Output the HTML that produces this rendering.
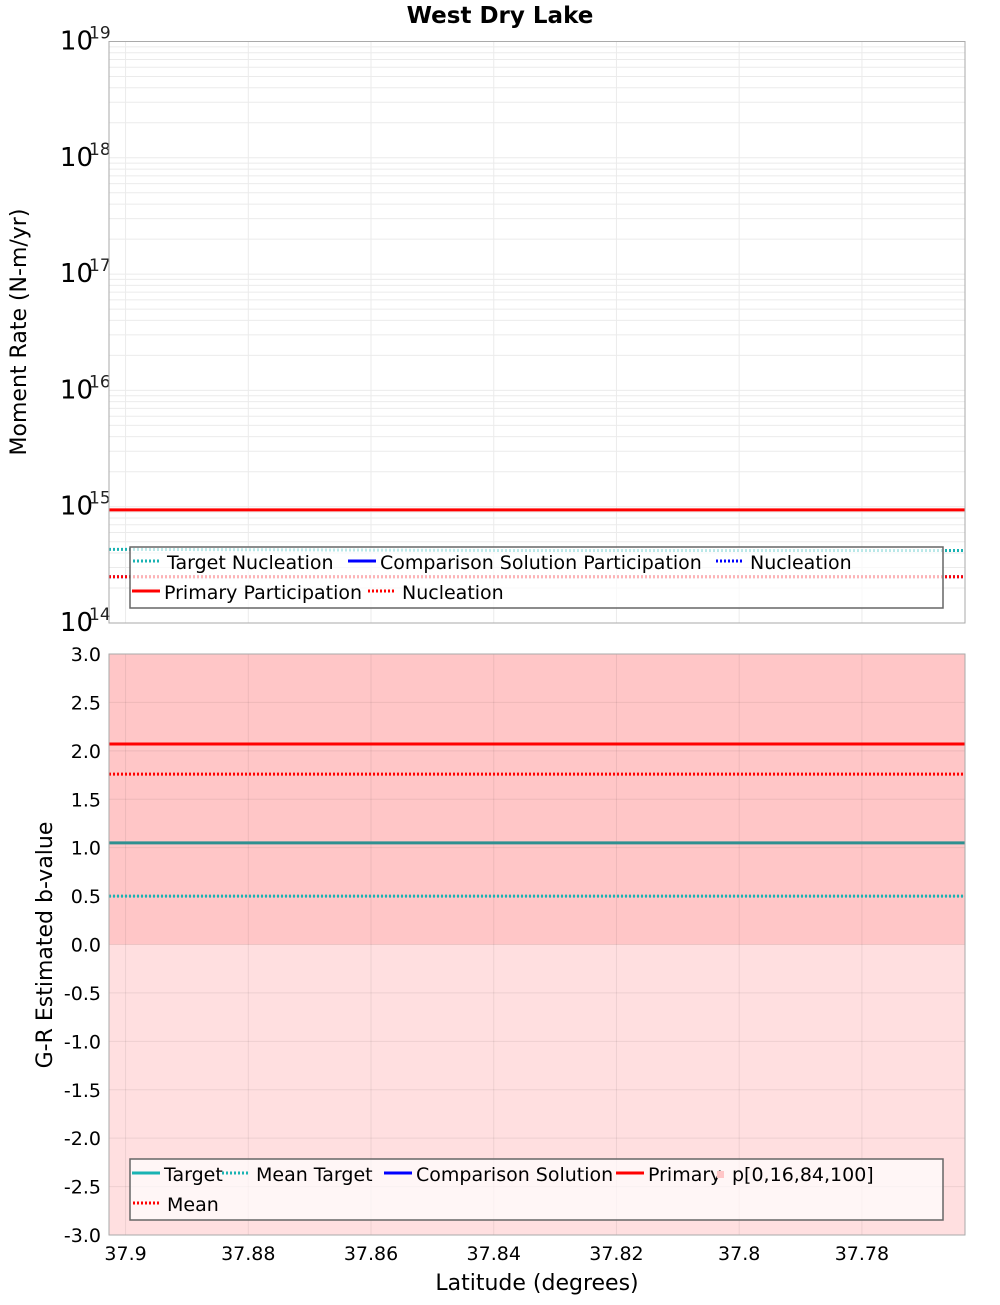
<!DOCTYPE html>
<html><head><meta charset="utf-8">
<style>
body{margin:0;background:#fff;}
svg text{font-family:"DejaVu Sans","Liberation Sans",sans-serif;}
</style></head>
<body>
<svg id="chart" width="1000" height="1300" xmlns="http://www.w3.org/2000/svg">
<text x="500" y="23" text-anchor="middle" font-size="23" font-weight="bold">West Dry Lake</text>
<g id="topPanel"></g>
<g id="botPanel"></g>
<text transform="translate(26,332) rotate(-90)" text-anchor="middle" font-size="22">Moment Rate (N-m/yr)</text>
<text transform="translate(52,945) rotate(-90)" text-anchor="middle" font-size="22">G-R Estimated b-value</text>
<text x="537" y="1290" text-anchor="middle" font-size="22">Latitude (degrees)</text>
</svg>
<script>
// ---- data ----
const xDomain = [37.9027, 37.7632];
const xTicks = [37.9, 37.88, 37.86, 37.84, 37.82, 37.8, 37.78];
const xTickLabels = ["37.9","37.88","37.86","37.84","37.82","37.8","37.78"];
const segX = [37.9027, 37.835, 37.7632];
// top panel (log moment rate)
const topDecades = [14, 15, 16, 17, 18, 19];
const primaryParticipation = [9.4e14, 9.4e14, 9.4e14];
const targetNucleation = [4.3e14, 4.2e14, 4.2e14];
const comparisonNucleation = [2.5e14, 2.5e14, 2.5e14];
const primaryNucleation = [2.5e14, 2.5e14, 2.5e14];
// bottom panel (b-value)
const bTicks = [3.0,2.5,2.0,1.5,1.0,0.5,0.0,-0.5,-1.0,-1.5,-2.0,-2.5,-3.0];
const bPrimary = [2.07, 2.07, 2.07];
const bMean = [1.76, 1.76, 1.76];
const bTarget = [1.05, 1.05, 1.05];
const bMeanTarget = [0.50, 0.50, 0.50];
const bandOuter = [-3.0, 3.0];
const bandInner = [0.0, 3.0];

const NS="http://www.w3.org/2000/svg";
const L=109,R=965;
const T1=41.5,B1=623, T2=654,B2=1235;
function xs(v){return L+(v-xDomain[0])/(xDomain[1]-xDomain[0])*(R-L);}
function ysTop(v){return B1-(Math.log10(v)-14)/5*(B1-T1);}
function ysBot(v){return B2-(v+3)/6*(B2-T2);}
function mk(parent,tag,attrs){const e=document.createElementNS(NS,tag);for(const k in attrs)e.setAttribute(k,attrs[k]);parent.appendChild(e);return e;}
const topG=document.getElementById('topPanel'), botG=document.getElementById('botPanel');

// ---- top panel ----
let bg=mk(topG,'rect',{x:L,y:T1,width:R-L,height:B1-T1,fill:'#fff'});


for(let d=14;d<19;d++){for(let m=1;m<10;m++){const y=ysTop(m*Math.pow(10,d));
 const g=mk(topG,'line',{x1:L,x2:R,y1:y,y2:y,stroke:'#ebebeb','stroke-width':1});
 
 }}
xTicks.forEach(t=>{const x=xs(t);
 const g=mk(topG,'line',{x1:x,x2:x,y1:T1,y2:B1,stroke:'#ebebeb','stroke-width':1});
 
 });
topDecades.forEach(d=>{const y=ysTop(Math.pow(10,d));
 const t=mk(topG,'text',{x:93,y:y+8,'text-anchor':'end','font-size':26});t.textContent='10';
 
 
 const s=mk(topG,'text',{x:89,y:y-3,'font-size':17,fill:'#222'});s.textContent=String(d);
 
 });
function series(parent,vals,ys,color,w,dash,name){
 const pts=segX.map((x,i)=>xs(x)+','+ys(vals[i])).join(' ');
 const p=mk(parent,'polyline',{points:pts,fill:'none',stroke:color,'stroke-width':w});
 if(dash)p.setAttribute('stroke-dasharray',dash);
 
 }
series(topG,targetNucleation,ysTop,'#1ab3b3',3,'2,2','target-nucleation-line');
series(topG,comparisonNucleation,ysTop,'#0000ff',3,'2,2','comparison-nucleation-line');
series(topG,primaryNucleation,ysTop,'#ff0000',3,'2,2','primary-nucleation-line');
series(topG,primaryParticipation,ysTop,'#ff0000',3,null,'primary-participation-line');
let fr=mk(topG,'rect',{x:L,y:T1,width:R-L,height:B1-T1,fill:'none',stroke:'#aaa'});



function legend(parent,x,y,w,h,rows,name){
 const g=mk(parent,'g',{});
 
 
 mk(g,'rect',{x:x,y:y,width:w,height:h,fill:'rgba(255,255,255,0.7)',stroke:'#666','stroke-width':1.5});
 rows.forEach(r=>{
  const e=mk(g,'g',{});
  
  
  if(r.sq){mk(e,'rect',{x:r.x+5,y:r.y-6,width:7,height:7,fill:r.c});}
  else{const l=mk(e,'line',{x1:r.x,x2:r.x+28,y1:r.y-4,y2:r.y-4,stroke:r.c,'stroke-width':3});if(r.d)l.setAttribute('stroke-dasharray','2,2');}
  const t=mk(e,'text',{x:r.x+(r.sq?20:32)+(r.d?2:0),y:r.y+4,'font-size':19});t.textContent=r.t;});
}
legend(topG,130,547,813,61,[
 {x:133,y:565,c:'#1ab3b3',d:1,t:'Target Nucleation'},
 {x:348,y:565,c:'#0000ff',t:'Comparison Solution Participation'},
 {x:716,y:565,c:'#0000ff',d:1,t:'Nucleation'},
 {x:132,y:595,c:'#ff0000',t:'Primary Participation'},
 {x:368,y:595,c:'#ff0000',d:1,t:'Nucleation'}],'top-legend');

// ---- bottom panel ----
let o=mk(botG,'rect',{x:L,y:ysBot(bandOuter[1]),width:R-L,height:ysBot(bandOuter[0])-ysBot(bandOuter[1]),fill:'#ffdfe0'});


let i2=mk(botG,'rect',{x:L,y:ysBot(bandInner[1]),width:R-L,height:ysBot(bandInner[0])-ysBot(bandInner[1]),fill:'#ffc6c7'});


bTicks.forEach(v=>{const y=ysBot(v);
 const g=mk(botG,'line',{x1:L,x2:R,y1:y,y2:y,stroke:'rgba(0,0,0,0.07)','stroke-width':1});
 
 
 const t=mk(botG,'text',{x:101,y:y+7,'text-anchor':'end','font-size':19});t.textContent=v.toFixed(1);
 
 });
xTicks.forEach((v,k)=>{const x=xs(v);
 const g=mk(botG,'line',{x1:x,x2:x,y1:T2,y2:B2,stroke:'rgba(0,0,0,0.07)','stroke-width':1});
 
 
 const t=mk(botG,'text',{x:x,y:1260,'text-anchor':'middle','font-size':19});t.textContent=xTickLabels[k];
 
 });
series(botG,bMeanTarget,ysBot,'#1ab3b3',3,'2,2','mean-target-line');
series(botG,bTarget,ysBot,'#2e9090',3,null,'target-line');
series(botG,bMean,ysBot,'#ff0000',3,'2,2','mean-line');
series(botG,bPrimary,ysBot,'#ff0000',3,null,'primary-line');
let fr2=mk(botG,'rect',{x:L,y:T2,width:R-L,height:B2-T2,fill:'none',stroke:'#aaa'});


legend(botG,130,1159,813,61,[
 {x:132,y:1177,c:'#1ab3b3',t:'Target'},
 {x:222,y:1177,c:'#1ab3b3',d:1,t:'Mean Target'},
 {x:384,y:1177,c:'#0000ff',t:'Comparison Solution'},
 {x:616,y:1177,c:'#ff0000',t:'Primary'},
 {x:712,y:1177,c:'#ffc6c7',sq:1,t:'p[0,16,84,100]'},
 {x:133,y:1207,c:'#ff0000',d:1,t:'Mean'}],'bottom-legend');
</script>
</body></html>
